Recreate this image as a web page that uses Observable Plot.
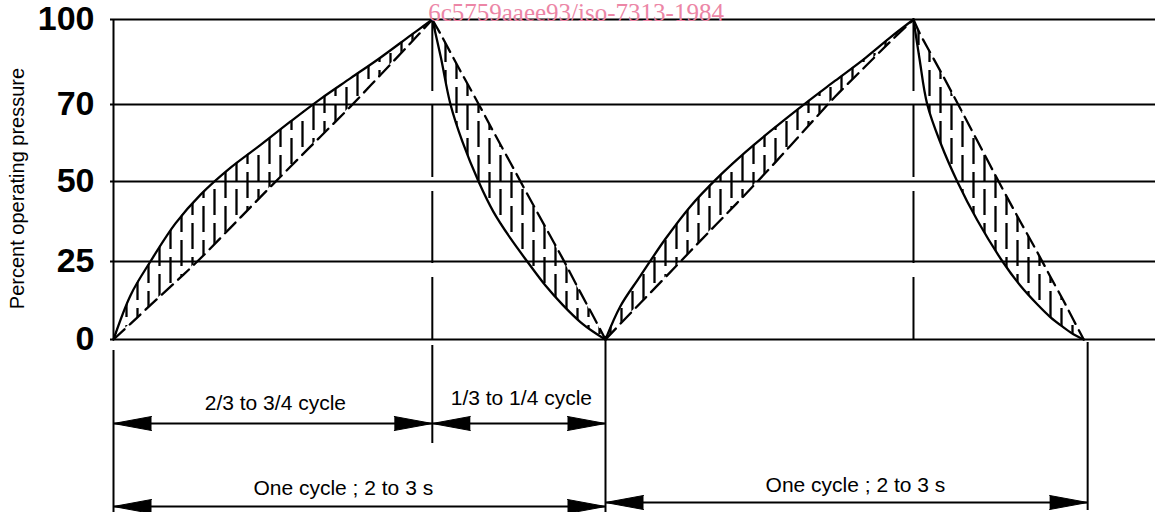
<!DOCTYPE html>
<html><head><meta charset="utf-8">
<script src="https://cdn.jsdelivr.net/npm/d3@7"></script>
<script src="https://cdn.jsdelivr.net/npm/@observablehq/plot@0.6"></script>
<style>
html,body{margin:0;padding:0;background:#fff;}
#chart{width:1155px;height:512px;}
</style></head><body><div id="chart"></div>
<script>
// ---- axis / text data ----
const yTicks = [0, 25, 50, 70, 100];
const yLabel = "Percent operating pressure";
const watermark = "6c5759aaee93/iso-7313-1984";

// ---- pressure curves (time in cycles, value in percent) ----
const rise1T      = [0, 0.035, 0.075, 0.126, 0.177, 0.238, 0.299, 0.360, 0.421, 0.482, 0.543, 0.604, 0.648];
const rise1Solid  = [0, 14.3, 25, 36.9, 45.9, 53.6, 59.5, 65.6, 72.0, 79.3, 86.6, 94.4, 100];
const rise1Dashed = [0, 5.1, 11.0, 18.4, 26.0, 35.6, 45.2, 53.9, 61.7, 69.5, 80.5, 91.7, 100];

const fall1T      = [0.648, 0.665, 0.685, 0.709, 0.742, 0.772, 0.807, 0.841, 0.878, 0.913, 0.949, 0.976, 1.0];
const fall1Solid  = [100, 86.9, 70, 60.4, 50, 40.6, 32.2, 25, 17.3, 11.1, 5.6, 2.4, 0];
const fall1Dashed = [100, 94.8, 88.3, 80.6, 70.2, 63.0, 54.8, 46.1, 35.7, 25.9, 15.1, 7.2, 0];

const rise2T      = [1.0, 1.030, 1.071, 1.122, 1.173, 1.224, 1.285, 1.346, 1.407, 1.467, 1.528, 1.579, 1.626];
const rise2Solid  = [0, 10.6, 20.4, 32.1, 42.3, 50.5, 57.7, 64.2, 70.5, 78.4, 86.4, 93.7, 100];
const rise2Dashed = [0, 5.0, 11.7, 20.0, 28.3, 36.4, 46.1, 55.1, 63.7, 72.8, 83.4, 92.2, 100];

const fall2T      = [1.626, 1.638, 1.654, 1.681, 1.715, 1.756, 1.807, 1.843, 1.878, 1.904, 1.931, 1.951, 1.972];
const fall2Solid  = [100, 86.4, 70, 60.0, 50, 37.8, 25, 17.3, 11.2, 7.2, 3.9, 1.7, 0];
const fall2Dashed = [100, 95.4, 90.2, 81.7, 70.6, 60.5, 47.7, 37.5, 27.8, 20.2, 12.4, 6.3, 0];

// ---- key instants ----
const peakT = [0.648, 1.626];

// ---- dimension lines below the graph (y in the lower band units) ----
const spanLabels = ["2/3 to 3/4 cycle", "1/3 to 1/4 cycle", "One cycle ; 2 to 3 s", "One cycle ; 2 to 3 s"];
const spanFrom   = [0, 0.648, 0, 1.0];
const spanTo     = [0.648, 1.0, 1.0, 1.98];
const spanRow    = [-84, -84, -167, -163];
const spanTextT  = [0.329, 0.829, 0.467, 1.508];
const spanTextY  = [-64, -59, -149, -146];

const extT      = [0, 0.648, 1.0, 1.98];
const extTop    = [-11, -6, 1, -3];
const extBottom = [-173, -104, -173, -171];

// ---- build tables ----
const segDefs = [
  ["rise1", rise1T, rise1Solid, rise1Dashed],
  ["fall1", fall1T, fall1Solid, fall1Dashed],
  ["rise2", rise2T, rise2Solid, rise2Dashed],
  ["fall2", fall2T, fall2Solid, fall2Dashed]
];
const curve = segDefs.flatMap(([seg, T, S, D]) => T.map((t, i) => ({seg, t, solid: S[i], dashed: D[i]})));
const spans = spanLabels.map((label, i) => ({label, from: spanFrom[i], to: spanTo[i], row: spanRow[i], tx: spanTextT[i], ty: spanTextY[i]}));
const heads = spans.flatMap(s => [{x: s.from, y: s.row, dir: -90}, {x: s.to, y: s.row, dir: 90}]);
const ext = extT.map((t, i) => ({t, top: extTop[i], bottom: extBottom[i]}));

const sans = "'Liberation Sans', Arial, Helvetica, sans-serif";

const svg = Plot.plot({
  width: 1155,
  height: 512,
  marginLeft: 110,
  marginRight: 0,
  marginTop: 0,
  marginBottom: 0,
  style: {fontFamily: sans, background: "#fff", color: "#000", overflow: "visible"},
  x: {type: "linear", domain: [-0.0061, 2.1179], axis: null},
  y: {type: "linear", domain: [-173, 0, 25, 50, 70, 100], range: [512, 339, 261, 181, 104, 19], axis: null},
  marks: [
    Plot.ruleY(yTicks, {stroke: "#000", strokeWidth: 2}),
    Plot.ruleX([0], {y1: 0, y2: 100, stroke: "#000", strokeWidth: 2}),
    Plot.areaY(curve, {x: "t", y1: "dashed", y2: "solid", z: "seg", fill: "url(#hatch)", curve: "catmull-rom"}),
    Plot.line(curve, {x: "t", y: "solid", z: "seg", stroke: "#000", strokeWidth: 2.3, curve: "catmull-rom"}),
    Plot.line(curve, {x: "t", y: "dashed", z: "seg", stroke: "#000", strokeWidth: 2.3, strokeDasharray: "15,7", curve: "catmull-rom"}),
    Plot.ruleX(peakT, {y1: 100, y2: 0, stroke: "#000", strokeWidth: 2, strokeDasharray: "72,14"}),
    Plot.ruleX(ext, {x: "t", y1: "top", y2: "bottom", stroke: "#000", strokeWidth: 2}),
    Plot.ruleY(spans, {y: "row", x1: "from", x2: "to", stroke: "#000", strokeWidth: 2}),
    Plot.vector(heads, {x: "x", y: "y", rotate: "dir", length: 38, r: 7, shape: "spike", anchor: "end", fill: "#000", stroke: "#000", strokeWidth: 1}),
    Plot.text(spans, {x: "tx", y: "ty", text: "label", fontSize: 21, fill: "#000", fontFamily: sans}),
    Plot.axisY(yTicks, {tickSize: 0, tickPadding: 16, fontSize: 34, fontWeight: "bold", label: null,
      fontFamily: sans, fill: "#000"}),
    Plot.text([yLabel], {frameAnchor: "left", textAnchor: "middle", dx: -93, dy: -68, rotate: -90, fontSize: 20, fill: "#000", fontFamily: sans}),
    Plot.text([watermark], {frameAnchor: "top", textAnchor: "middle", dx: -57, dy: 12, lineAnchor: "middle", fontSize: 25, fill: "#ec86a6",
      fontFamily: "'Liberation Serif', 'Times New Roman', serif"})
  ]
});

const ns = "http://www.w3.org/2000/svg";
const defs = document.createElementNS(ns, "defs");
const pat = document.createElementNS(ns, "pattern");
pat.setAttribute("id", "hatch");
pat.setAttribute("patternUnits", "userSpaceOnUse");
pat.setAttribute("width", "22");
pat.setAttribute("height", "34");
[[5.5, 2, 28], [16.5, 19, 34], [16.5, -1, 11]].forEach(([x, y1, y2]) => {
  const ln = document.createElementNS(ns, "line");
  ln.setAttribute("x1", x); ln.setAttribute("x2", x);
  ln.setAttribute("y1", y1); ln.setAttribute("y2", y2);
  ln.setAttribute("stroke", "#000"); ln.setAttribute("stroke-width", "2.3");
  pat.appendChild(ln);
});
defs.appendChild(pat);
svg.insertBefore(defs, svg.firstChild);

document.getElementById("chart").appendChild(svg);
</script>
</body></html>
